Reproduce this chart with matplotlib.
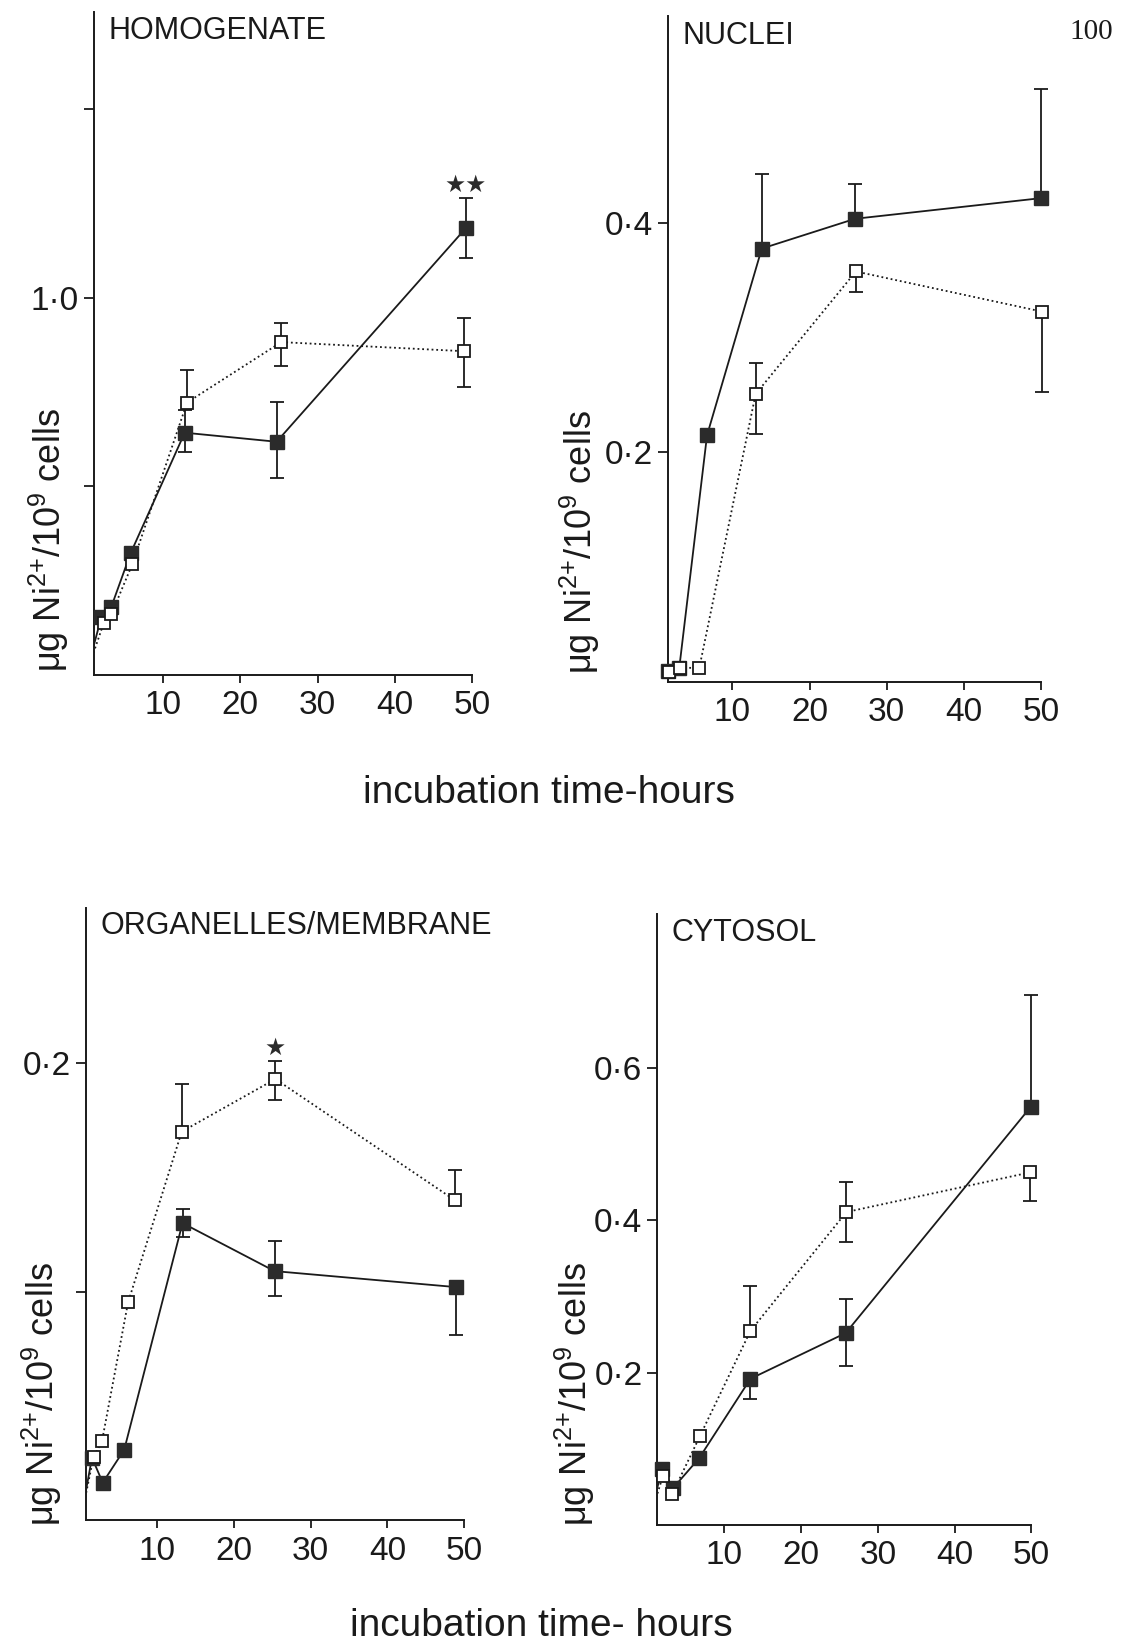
import numpy as np
import matplotlib
matplotlib.use("Agg")
import matplotlib.pyplot as plt
from matplotlib.font_manager import FontProperties

# ---------------------------------------------------------------- data
# Ni2+ content (ug / 10^9 cells) versus incubation time (h).
# "solid" = filled squares / solid line, "open" = open squares / dotted line.

# HOMOGENATE
homo_t_solid = [2.0, 3.3, 5.8, 12.8, 24.7, 49.2]
homo_v_solid = [0.153, 0.181, 0.323, 0.642, 0.618, 1.184]
homo_lo_solid = [0, 0, 0, 0.050, 0.095, 0.079]
homo_hi_solid = [0, 0, 0, 0.060, 0.106, 0.079]
homo_t_open = [2.3, 3.3, 6.0, 13.1, 25.3, 48.9]
homo_v_open = [0.137, 0.161, 0.293, 0.722, 0.882, 0.858]
homo_lo_open = [0, 0, 0, 0, 0.063, 0.094]
homo_hi_open = [0, 0, 0, 0.087, 0.051, 0.089]

# NUCLEI
nuc_t_solid = [1.6, 3.1, 6.7, 13.8, 25.9, 50.0]
nuc_v_solid = [0.009, 0.012, 0.215, 0.378, 0.404, 0.422]
nuc_lo_solid = [0, 0, 0, 0, 0, 0]
nuc_hi_solid = [0, 0, 0, 0.065, 0.030, 0.095]
nuc_t_open = [1.8, 3.2, 5.7, 13.0, 26.0, 50.1]
nuc_v_open = [0.008, 0.012, 0.012, 0.251, 0.358, 0.323]
nuc_lo_open = [0, 0, 0, 0.035, 0.018, 0.070]
nuc_hi_open = [0, 0, 0, 0.027, 0, 0]

# ORGANELLES/MEMBRANE
org_t_solid = [1.5, 2.9, 5.7, 13.3, 25.3, 49.0]
org_v_solid = [0.0274, 0.0165, 0.0309, 0.130, 0.109, 0.102]
org_lo_solid = [0, 0, 0, 0.006, 0.011, 0.021]
org_hi_solid = [0, 0, 0, 0.006, 0.0133, 0]
org_t_open = [1.7, 2.8, 6.2, 13.2, 25.4, 48.8]
org_v_open = [0.0277, 0.0346, 0.0953, 0.170, 0.193, 0.140]
org_lo_open = [0, 0, 0, 0, 0.0091, 0]
org_hi_open = [0, 0, 0, 0.021, 0.0078, 0.0134]

# CYTOSOL
cyt_t_solid = [1.9, 3.3, 6.7, 13.4, 25.8, 49.9]
cyt_v_solid = [0.0736, 0.0482, 0.0875, 0.192, 0.252, 0.549]
cyt_lo_solid = [0, 0, 0, 0.026, 0.043, 0]
cyt_hi_solid = [0, 0, 0, 0, 0.045, 0.147]
cyt_t_open = [2.0, 3.2, 6.8, 13.4, 25.9, 49.8]
cyt_v_open = [0.0645, 0.0405, 0.1164, 0.255, 0.411, 0.463]
cyt_lo_open = [0, 0, 0, 0, 0.040, 0.038]
cyt_hi_open = [0, 0, 0, 0.0585, 0.040, 0]

titles = ["HOMOGENATE", "NUCLEI", "ORGANELLES/MEMBRANE", "CYTOSOL"]
x_ticks = [10, 20, 30, 40, 50]
x_ticklabels = ["10", "20", "30", "40", "50"]
homo_yticks, homo_yticklabels = [0.5, 1.0, 1.5], ["", "1·0", ""]
nuc_yticks, nuc_yticklabels = [0.2, 0.4], ["0·2", "0·4"]
org_yticks, org_yticklabels = [0.1, 0.2], ["", "0·2"]
cyt_yticks, cyt_yticklabels = [0.2, 0.4, 0.6], ["0·2", "0·4", "0·6"]

y_label = r"μg Ni$^{2{+}}$/10$^{9}$ cells"
x_label_top = "incubation time-hours"
x_label_bottom = "incubation time- hours"
page_number = "100"

# ---------------------------------------------------------------- style
FIG_W, FIG_H = 1123, 1645
TEXT_FONT = ["Liberation Sans", "DejaVu Sans"]
NUM_FONT = ["Liberation Sans Narrow", "Liberation Sans", "DejaVu Sans"]
INK = "#1a1a1a"
FILL = "#2b2b2b"

plt.rcParams["font.family"] = TEXT_FONT
plt.rcParams["mathtext.fontset"] = "custom"
plt.rcParams["mathtext.rm"] = "Liberation Sans"
plt.rcParams["mathtext.it"] = "Liberation Sans:italic"
plt.rcParams["mathtext.bf"] = "Liberation Sans:bold"

num_fp = FontProperties(family=NUM_FONT, size=24)


def px_box(left, top, right, bottom):
    return [left / FIG_W, 1 - bottom / FIG_H,
            (right - left) / FIG_W, (bottom - top) / FIG_H]


panels = [
    dict(box=px_box(93.6, 11.5, 472.0, 675.0), xmin=1.0, ymax=1.758,
         yticks=homo_yticks, yticklabels=homo_yticklabels, title=titles[0],
         solid=(homo_t_solid, homo_v_solid, homo_lo_solid, homo_hi_solid),
         open=(homo_t_open, homo_v_open, homo_lo_open, homo_hi_open),
         star=("solid", 5, "★★"), ylab_px=(49, 672)),
    dict(box=px_box(667.7, 16.0, 1041.0, 681.6), xmin=1.6, ymax=0.581,
         yticks=nuc_yticks, yticklabels=nuc_yticklabels, title=titles[1],
         solid=(nuc_t_solid, nuc_v_solid, nuc_lo_solid, nuc_hi_solid),
         open=(nuc_t_open, nuc_v_open, nuc_lo_open, nuc_hi_open),
         star=None, ylab_px=(580, 674)),
    dict(box=px_box(85.7, 907.5, 464.1, 1520.4), xmin=0.68, ymax=0.268,
         yticks=org_yticks, yticklabels=org_yticklabels, title=titles[2],
         solid=(org_t_solid, org_v_solid, org_lo_solid, org_hi_solid),
         open=(org_t_open, org_v_open, org_lo_open, org_hi_open),
         star=("open", 4, "★"), ylab_px=(42, 1526)),
    dict(box=px_box(657.0, 914.4, 1031.4, 1524.9), xmin=1.22, ymax=0.802,
         yticks=cyt_yticks, yticklabels=cyt_yticklabels, title=titles[3],
         solid=(cyt_t_solid, cyt_v_solid, cyt_lo_solid, cyt_hi_solid),
         open=(cyt_t_open, cyt_v_open, cyt_lo_open, cyt_hi_open),
         star=None, ylab_px=(575, 1526)),
]

fig = plt.figure(figsize=(FIG_W / 100, FIG_H / 100), dpi=100)
fig.patch.set_facecolor("white")


def draw_errors(ax, t, v, lo, hi):
    for ti, vi, l, h in zip(t, v, lo, hi):
        for d in (h, -l):
            if d != 0:
                ax.plot([ti, ti], [vi, vi + d], color=INK, lw=1.3,
                        solid_capstyle="butt", zorder=2, clip_on=False)
                ax.plot([ti], [vi + d], marker="_", ms=10, mew=1.3,
                        color=INK, zorder=2, clip_on=False)


for p in panels:
    ax = fig.add_axes(p["box"])
    ax.set_xlim(p["xmin"], 50)
    ax.set_ylim(0, p["ymax"])
    for side in ("top", "right"):
        ax.spines[side].set_visible(False)
    for side in ("left", "bottom"):
        ax.spines[side].set_linewidth(1.4)
        ax.spines[side].set_color(INK)

    ax.set_xticks(x_ticks)
    ax.set_xticklabels(x_ticklabels, fontproperties=num_fp)
    ax.set_yticks(p["yticks"])
    ax.set_yticklabels(p["yticklabels"], fontproperties=num_fp)
    ax.tick_params(axis="x", direction="out", length=6, width=1.3,
                   color=INK, pad=5, labelcolor=INK)
    ax.tick_params(axis="y", direction="out", length=7.5, width=1.3,
                   color=INK, pad=3, labelcolor=INK)

    # solid series
    t, v, lo, hi = p["solid"]
    ax.plot(np.r_[0, t], np.r_[0, v], color=INK, lw=1.3, ls="-", zorder=2)
    draw_errors(ax, t, v, lo, hi)
    ax.plot(t, v, ls="none", marker="s", ms=9.5, mfc=FILL, mec=FILL,
            mew=1.0, zorder=4, clip_on=False)

    # open series
    t, v, lo, hi = p["open"]
    ax.plot(np.r_[0, t], np.r_[0, v], color=INK, lw=1.3,
            ls=(0, (1.0, 1.6)), zorder=2)
    draw_errors(ax, t, v, lo, hi)
    ax.plot(t, v, ls="none", marker="s", ms=9, mfc="white", mec=INK,
            mew=1.3, zorder=5, clip_on=False)

    # significance stars
    if p["star"] is not None:
        which, i, mark = p["star"]
        t, v, lo, hi = p[which]
        ax.annotate(mark, xy=(t[i], v[i] + hi[i]), xytext=(0, 1),
                    textcoords="offset points", ha="center", va="bottom",
                    fontsize=17, family="DejaVu Sans", color=FILL)

    ax.text(0.04, 0.97, p["title"], transform=ax.transAxes, ha="left",
            va="center", fontsize=22, color=INK)

    xl, yb = p["ylab_px"]
    fig.text(xl / FIG_W, 1 - yb / FIG_H, y_label, rotation=90,
             ha="center", va="bottom", fontsize=26, color=INK)

fig.text(549 / FIG_W, 1 - 793 / FIG_H, x_label_top, ha="center",
         va="center", fontsize=28, color=INK)
fig.text(541 / FIG_W, 1 - 1626 / FIG_H, x_label_bottom, ha="center",
         va="center", fontsize=28, color=INK)
fig.text(1091 / FIG_W, 1 - 32 / FIG_H, page_number, ha="center",
         va="center", fontsize=21, family=["Liberation Serif", "DejaVu Serif"],
         color=INK)

fig.savefig("out.png", dpi=100, facecolor="white")
